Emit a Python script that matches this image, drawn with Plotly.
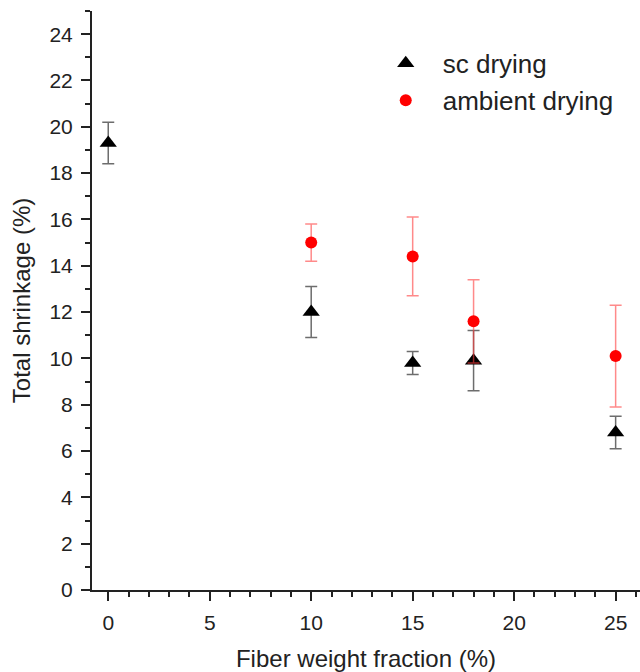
import plotly.graph_objects as go

sc_x = [0, 10, 15, 18, 25]
sc_y = [19.3, 12.0, 9.8, 9.9, 6.8]
sc_err = [0.9, 1.1, 0.5, 1.3, 0.7]

amb_x = [10, 15, 18, 25]
amb_y = [15.0, 14.4, 11.6, 10.1]
amb_err = [0.8, 1.7, 1.8, 2.2]

x_ticks = [0, 5, 10, 15, 20, 25]
y_ticks = [0, 2, 4, 6, 8, 10, 12, 14, 16, 18, 20, 22, 24]

fig = go.Figure()
fig.add_trace(go.Scatter(
    x=sc_x, y=sc_y, mode="markers", name="sc drying",
    marker=dict(symbol="triangle-up", size=15, color="black"),
    error_y=dict(type="data", array=sc_err, visible=True,
                 color="rgba(60,60,60,0.75)", thickness=1.5, width=6),
))
fig.add_trace(go.Scatter(
    x=amb_x, y=amb_y, mode="markers", name="ambient drying",
    marker=dict(symbol="circle", size=12, color="red"),
    error_y=dict(type="data", array=amb_err, visible=True,
                 color="rgba(255,60,60,0.6)", thickness=1.5, width=6),
))

font_family = "Liberation Sans, Arial, sans-serif"
fig.update_layout(
    width=640, height=672,
    margin=dict(l=92, r=0, t=11, b=82),
    paper_bgcolor="white", plot_bgcolor="white",
    font=dict(family=font_family, size=21, color="#222"),
    showlegend=True,
    legend=dict(x=0.505, y=0.95, xanchor="left", yanchor="top",
                font=dict(size=26, color="#222"), bgcolor="rgba(0,0,0,0)",
                itemwidth=64),
    xaxis=dict(
        range=[-0.8, 26.2], tickvals=x_ticks, ticks="outside", ticklen=9,
        tickwidth=1.5, tickcolor="#222", showline=True, linecolor="#222",
        linewidth=2, showgrid=False, zeroline=False, ticklabelstandoff=4,
        minor=dict(dtick=1, ticks="outside", ticklen=5, tickwidth=1.5, tickcolor="#222", showgrid=False),
        title=dict(text="Fiber weight fraction (%)", font=dict(size=24), standoff=18),
        tickfont=dict(size=21),
    ),
    yaxis=dict(
        range=[0, 25], tickvals=y_ticks, ticks="outside", ticklen=9,
        tickwidth=1.5, tickcolor="#222", showline=True, linecolor="#222",
        linewidth=2, showgrid=False, zeroline=False, ticklabelstandoff=4,
        minor=dict(dtick=1, ticks="outside", ticklen=5, tickwidth=1.5, tickcolor="#222", showgrid=False),
        title=dict(text="Total shrinkage (%)", font=dict(size=24), standoff=12),
        tickfont=dict(size=21),
    ),
)

fig.write_html("out.html")
